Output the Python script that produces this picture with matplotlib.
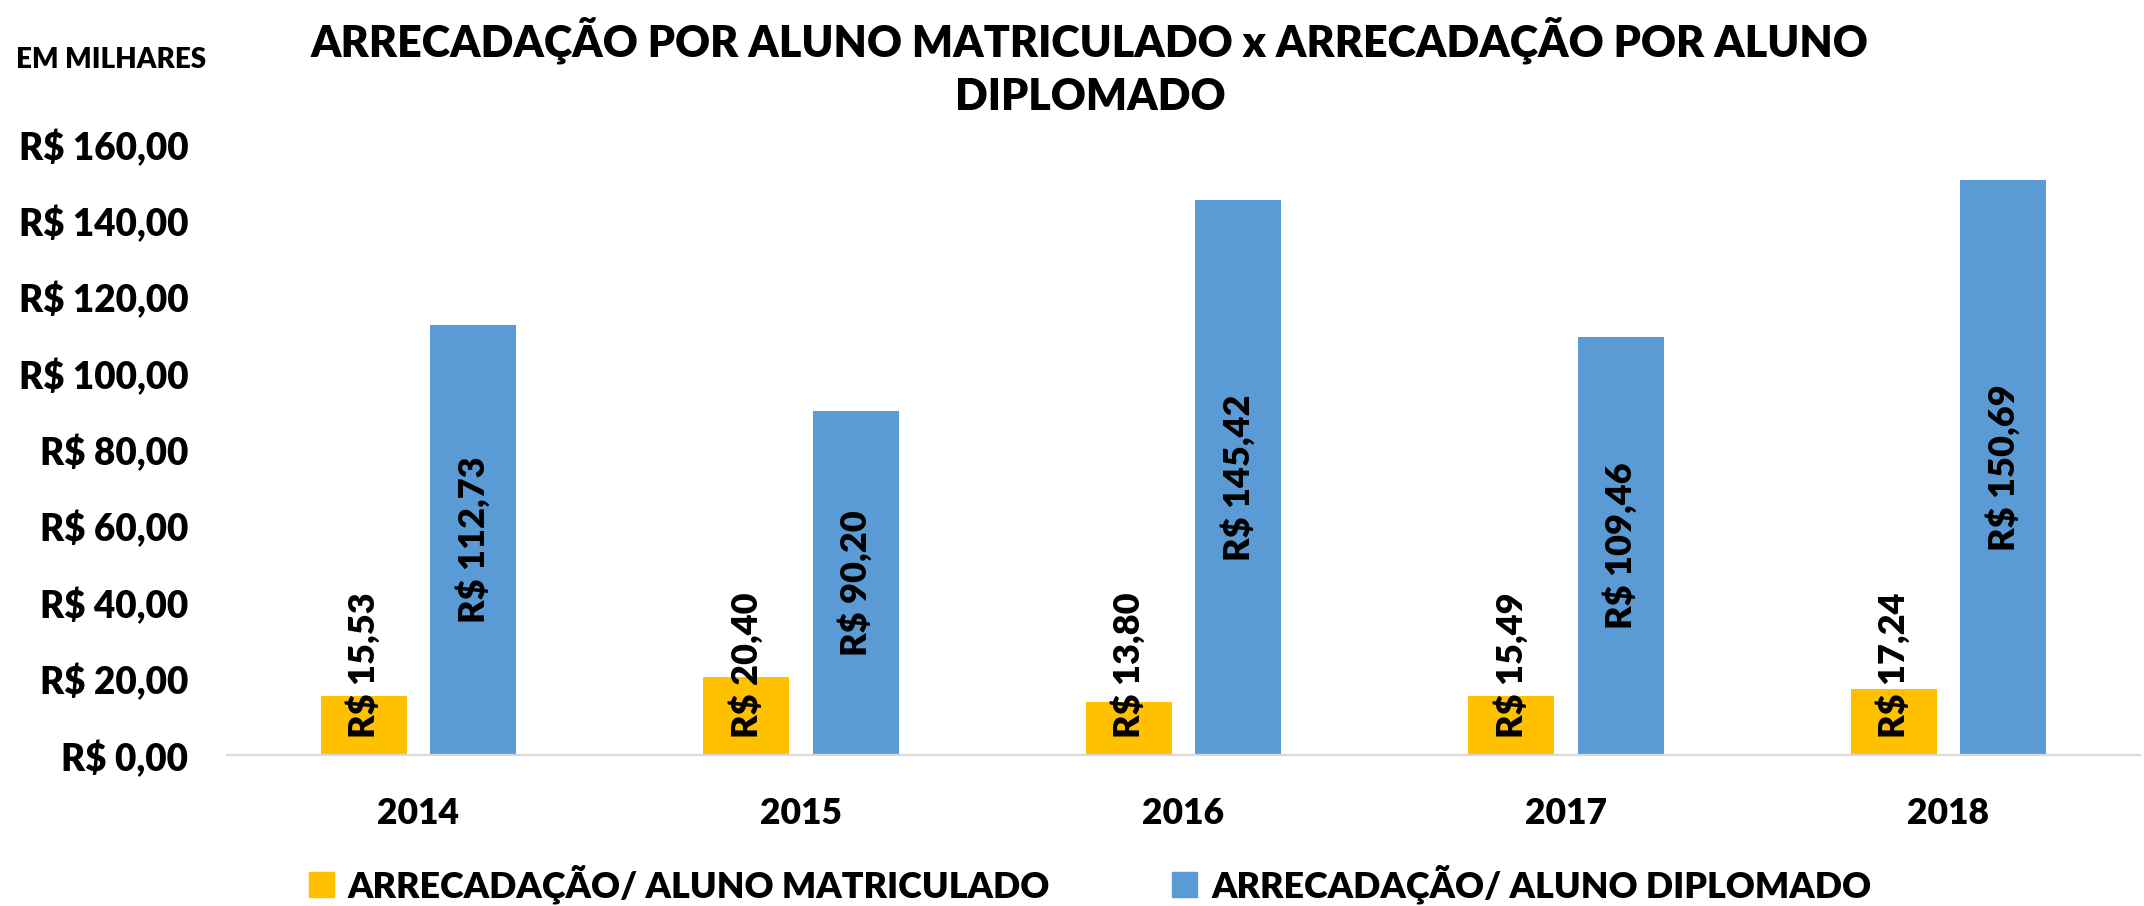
import matplotlib
matplotlib.use('Agg')
import matplotlib.pyplot as plt
import matplotlib.patches as mplpatches
from matplotlib.ticker import FuncFormatter, MultipleLocator
import numpy as np

plt.rcParams['font.family'] = ['Lato', 'DejaVu Sans']
plt.rcParams['font.weight'] = 'heavy'

# data (R$, em milhares)
years = ['2014', '2015', '2016', '2017', '2018']
matriculado = [15.53, 20.40, 13.80, 15.49, 17.24]
diplomado = [112.73, 90.20, 145.42, 109.46, 150.69]
series_names = ['ARRECADAÇÃO/ ALUNO MATRICULADO', 'ARRECADAÇÃO/ ALUNO DIPLOMADO']
title = 'ARRECADAÇÃO POR ALUNO MATRICULADO x ARRECADAÇÃO POR ALUNO\nDIPLOMADO'

gold = '#FFC000'
blue = '#5B9BD5'
W = 'heavy'

def brl(v):
    return 'R$ ' + f'{v:.2f}'.replace('.', ',')

figW, figH = 21.44, 9.06
fig = plt.figure(figsize=(figW, figH), dpi=100)
ax = fig.add_axes([227.25/2144, 1 - 755/906, 1912.5/2144, 611/906])

x = np.arange(len(years))
barW = 0.225
off = 0.143
b1 = ax.bar(x - off, matriculado, barW, color=gold, zorder=2)
b2 = ax.bar(x + off, diplomado, barW, color=blue, zorder=2)

ax.set_xlim(-0.5, len(years) - 0.5)
ax.set_ylim(0, 160)
ax.yaxis.set_major_locator(MultipleLocator(20))
ax.yaxis.set_major_formatter(FuncFormatter(lambda v, p: brl(v)))
ax.set_xticks(x)
ax.set_xticklabels(years)

for s in ['top', 'right', 'left']:
    ax.spines[s].set_visible(False)
ax.spines['bottom'].set_color('#D9D9D9')
ax.spines['bottom'].set_linewidth(1.6)
ax.tick_params(axis='y', length=0, pad=28, labelsize=26.5)
ax.tick_params(axis='x', length=0, pad=30, labelsize=25.5)
for lb in ax.get_xticklabels() + ax.get_yticklabels():
    lb.set_fontweight(W)

# data labels, rotated, centred on the bar
labels = []
for bars, vals in [(b1, matriculado), (b2, diplomado)]:
    for r, v in zip(bars, vals):
        t = ax.text(r.get_x() + r.get_width()/2, v/2, brl(v), rotation=90,
                    ha='center', va='center', fontsize=26, fontweight=W,
                    color='black', zorder=3, rotation_mode='anchor')
        labels.append(t)

# keep labels inside the plot area (like Excel does)
fig.canvas.draw()
rend = fig.canvas.get_renderer()
y0 = ax.transData.transform((0, 0))[1]
for t in labels:
    bb = t.get_window_extent(rend)
    if bb.y0 < y0 + 17:
        xd, yd = t.get_position()
        shift = (y0 + 17) - bb.y0
        ydisp = ax.transData.transform((xd, yd))[1] + shift
        t.set_position((xd, ax.transData.inverted().transform((0, ydisp))[1]))

fig.text(1090/2144, 1 - 16/906, title, ha='center', va='top', fontsize=31,
         fontweight=W, linespacing=1.4)
fig.text(16/2144, 1 - 60/906, 'EM MILHARES', ha='left', va='center',
         fontsize=20, fontweight=W)

handles = [mplpatches.Patch(color=gold), mplpatches.Patch(color=blue)]
fig.legend(handles, series_names, loc='center', bbox_to_anchor=(1090/2144, 1 - 884/906),
           ncol=2, frameon=False, handlelength=0.69, handleheight=0.69,
           handletextpad=0.4, columnspacing=3.4, prop={'weight': W, 'size': 25.8})

fig.savefig('out.png', dpi=100)
